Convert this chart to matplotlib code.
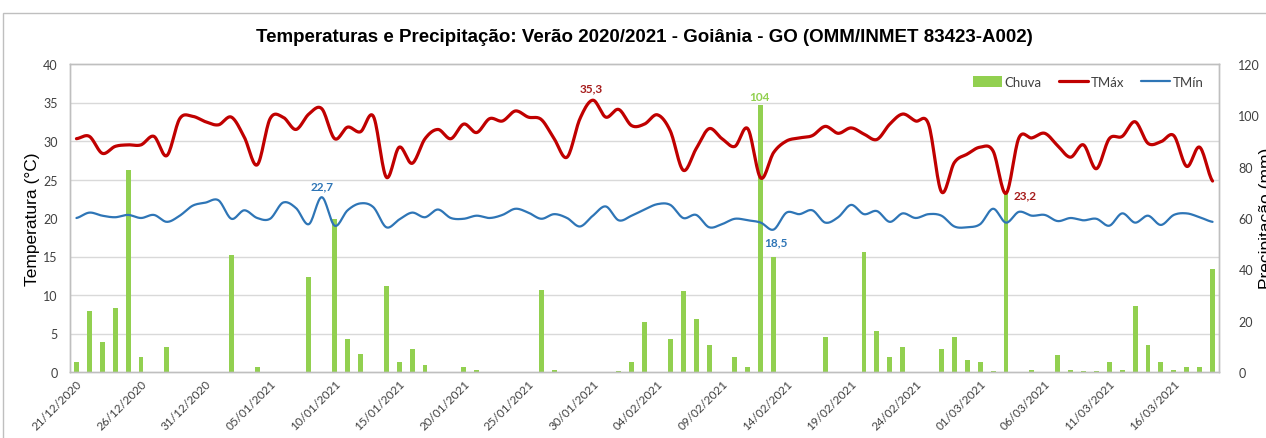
import numpy as np
import pandas as pd
import matplotlib
matplotlib.use("Agg")
import matplotlib.pyplot as plt
from matplotlib.ticker import MultipleLocator
from matplotlib.patches import Rectangle

# daily data, 21/12/2020 .. 19/03/2021
dates = pd.date_range("2020-12-21", "2021-03-19", freq="D")
date_labels = [d.strftime("%d/%m/%Y") for d in dates]

chuva = [3.8, 23.6, 11.8, 24.8, 78.7, 6.0, 0, 9.6, 0, 0,
         0, 0, 45.7, 0, 1.8, 0, 0, 0, 36.9, 0,
         59.6, 12.9, 7.0, 0, 33.6, 3.8, 9.0, 2.7, 0, 0,
         1.8, 0.8, 0, 0, 0, 0, 32.0, 0.8, 0, 0,
         0, 0, 0.5, 3.8, 19.4, 0, 12.9, 31.7, 20.6, 10.6,
         0, 6.0, 1.8, 104.0, 44.7, 0, 0, 0, 13.8, 0,
         0, 46.9, 15.8, 6.0, 9.6, 0, 0, 9.0, 13.8, 4.8,
         3.8, 0.4, 69.6, 0, 0.8, 0, 6.8, 0.8, 0.4, 0.4,
         3.8, 0.8, 25.8, 10.6, 3.8, 0.8, 1.8, 1.8, 40.0]

tmax = [30.3, 30.6, 28.4, 29.3, 29.5, 29.5, 30.6, 28.1, 32.9, 33.2,
        32.5, 32.1, 33.1, 30.5, 26.9, 32.9, 33.1, 31.5, 33.5, 34.2,
        30.3, 31.8, 31.2, 33.2, 25.3, 29.2, 27.1, 30.3, 31.5, 30.3,
        32.2, 31.1, 32.9, 32.6, 33.9, 33.1, 32.8, 30.3, 27.9, 32.9,
        35.3, 33.1, 34.1, 32.0, 32.2, 33.4, 31.3, 26.2, 29.0, 31.6,
        30.3, 29.3, 31.6, 25.2, 28.5, 30.0, 30.4, 30.7, 31.9, 31.0,
        31.7, 30.9, 30.2, 32.2, 33.5, 32.6, 32.2, 23.4, 27.2, 28.3,
        29.2, 28.7, 23.2, 30.4, 30.4, 31.0, 29.4, 27.9, 29.5, 26.4,
        30.3, 30.6, 32.5, 29.7, 29.9, 30.7, 26.7, 29.2, 24.8]

tmin = [20.0, 20.7, 20.3, 20.1, 20.4, 20.0, 20.4, 19.5, 20.3, 21.6,
        22.0, 22.3, 19.9, 21.0, 20.0, 19.9, 22.0, 21.3, 19.2, 22.7,
        19.0, 21.0, 21.9, 21.4, 18.8, 19.8, 20.7, 20.1, 21.1, 20.0,
        19.9, 20.3, 20.0, 20.4, 21.2, 20.7, 19.9, 20.5, 20.0, 18.9,
        20.3, 21.5, 19.7, 20.3, 21.1, 21.8, 21.7, 20.0, 20.4, 18.8,
        19.2, 19.9, 19.7, 19.4, 18.5, 20.7, 20.5, 21.0, 19.4, 20.1,
        21.7, 20.5, 20.9, 19.5, 20.6, 20.0, 20.5, 20.3, 18.9, 18.8,
        19.2, 21.2, 19.4, 20.8, 20.3, 20.4, 19.6, 20.0, 19.7, 19.9,
        19.0, 20.6, 19.4, 20.3, 19.1, 20.4, 20.6, 20.1, 19.5]

RED = "#C00000"
BLUE = "#2E75B6"
GREEN = "#92D050"
GRID = "#D9D9D9"
TXT = "#404040"
FONT = ["Lato", "DejaVu Sans"]


def smooth(y, n=16):
    # Excel-like smoothed line (Catmull-Rom through the daily values)
    y = np.asarray(y, dtype=float)
    xs, ys = [], []
    for i in range(len(y) - 1):
        p0 = y[max(i - 1, 0)]
        p1 = y[i]
        p2 = y[i + 1]
        p3 = y[min(i + 2, len(y) - 1)]
        t = np.linspace(0, 1, n, endpoint=False)
        seg = 0.5 * (2 * p1 + (-p0 + p2) * t + (2 * p0 - 5 * p1 + 4 * p2 - p3) * t ** 2
                     + (-p0 + 3 * p1 - 3 * p2 + p3) * t ** 3)
        xs.append(i + t)
        ys.append(seg)
    xs.append([len(y) - 1])
    ys.append([y[-1]])
    return np.concatenate(xs), np.concatenate(ys)


W, H = 1266, 439
fig = plt.figure(figsize=(W / 100, H / 100), dpi=100)
fig.patch.set_facecolor("white")

# chart frame
fig.add_artist(Rectangle((3 / W, -0.2), 1.2, (H - 14) / H + 0.2, transform=fig.transFigure,
                         fill=False, edgecolor="#BFBFBF", lw=1.0))

left, right, top, bottom = 70, 1219, 65, 373
ax = fig.add_axes([left / W, (H - bottom) / H, (right - left) / W, (bottom - top) / H])
ax2 = ax.twinx()

x = np.arange(len(dates))

# precipitation bars (right axis)
ax2.bar(x, chuva, width=0.38, color=GREEN, zorder=2, label="Chuva")
ax2.set_ylim(0, 120)
ax2.set_yticks(np.arange(0, 121, 20))
ax2.yaxis.set_minor_locator(MultipleLocator(15))
ax2.grid(which="minor", axis="y", color=GRID, lw=1.0, zorder=0)
ax2.set_axisbelow(True)

# temperatures (left axis), drawn above the bars
ax.set_zorder(ax2.get_zorder() + 1)
ax.patch.set_visible(False)
sx, sy = smooth(tmax)
ax.plot(sx, sy, color=RED, lw=2.3, solid_capstyle="round", label="TMáx")
sx, sy = smooth(tmin)
ax.plot(sx, sy, color=BLUE, lw=1.6, solid_capstyle="round", label="TMín")
ax.set_ylim(0, 40)
ax.set_yticks(np.arange(0, 41, 5))
ax.set_xlim(-0.5, len(dates) - 0.5)

ticks = x[::5]
ax.set_xticks(ticks)
ax.set_xticklabels([date_labels[i] for i in ticks], rotation=45, ha="right",
                   rotation_mode="anchor", fontsize=8.5, color=TXT, family=FONT)

for a in (ax, ax2):
    for s in a.spines.values():
        s.set_color("#BFBFBF")
        s.set_linewidth(1.0)
    a.tick_params(length=0, which="both")
ax.tick_params(axis="y", pad=9, labelsize=9, labelcolor=TXT)
ax.tick_params(axis="x", pad=4)
ax2.tick_params(axis="y", pad=14, labelsize=9, labelcolor=TXT)
for lab in ax.get_yticklabels() + ax2.get_yticklabels():
    lab.set_family(FONT)

ax.set_ylabel("Temperatura (°C)", fontsize=12.5, family=["Liberation Sans", "DejaVu Sans"],
              color="black", labelpad=2)
# the right-hand label is cut by the picture's edge, as in the original
fig.text(1266 / W, 1 - 218 / H, "Precipitação (mm)", rotation=90, ha="center", va="center",
         fontsize=12.5, family=["Liberation Sans", "DejaVu Sans"], color="black")

fig.text(644 / W, 1 - 38 / H,
         "Temperaturas e Precipitação: Verão 2020/2021 - Goiânia - GO (OMM/INMET 83423-A002)",
         ha="center", va="center", fontsize=13.5, fontweight="bold",
         family=["Liberation Sans", "DejaVu Sans"], color="black")

# value labels
lab_kw = dict(textcoords="offset pixels", ha="center", va="center", fontsize=8.5,
              fontweight="bold", family=FONT)
i = tmax.index(max(tmax))
ax.annotate("35,3", (i, tmax[i]), xytext=(-2, 12), color="#A61C1C", **lab_kw)
i = 72
ax.annotate("23,2", (i, tmax[i]), xytext=(19, -1), color="#A61C1C", **lab_kw)
i = 19
ax.annotate("22,7", (i, tmin[i]), xytext=(0, 11), color=BLUE, **lab_kw)
i = tmin.index(min(tmin))
ax.annotate("18,5", (i, tmin[i]), xytext=(2, -12), color=BLUE, **lab_kw)
i = chuva.index(max(chuva))
ax2.annotate("104", (i, chuva[i]), xytext=(-1, 9), color=GREEN, **lab_kw)

h1, l1 = ax2.get_legend_handles_labels()
h2, l2 = ax.get_legend_handles_labels()
leg = ax.legend(h1 + h2, l1 + l2, loc="upper right", ncol=3, frameon=False,
                bbox_to_anchor=(0.997, 1.0), handlelength=2.2,
                handleheight=0.9, columnspacing=1.3, handletextpad=0.2,
                prop={"family": FONT, "size": 9.5})
for t in leg.get_texts():
    t.set_color(TXT)

fig.savefig("out.png", dpi=100)
